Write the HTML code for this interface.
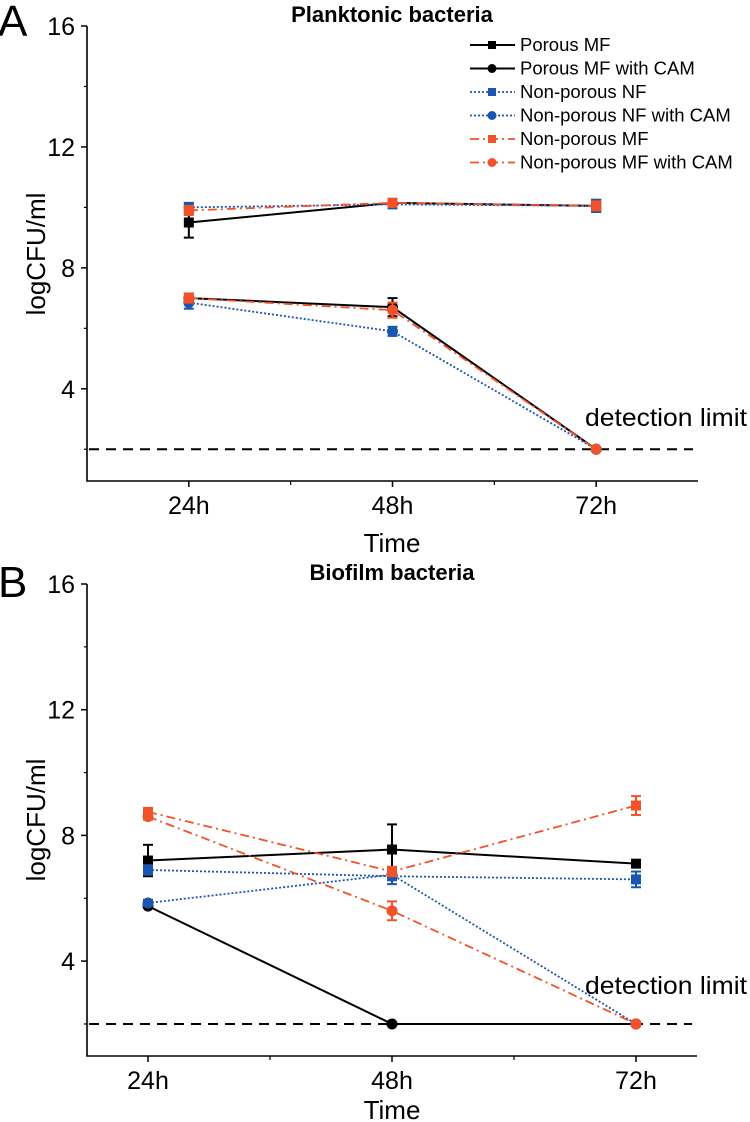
<!DOCTYPE html>
<html><head><meta charset="utf-8">
<style>
html,body{margin:0;padding:0;background:#fff;}
svg{display:block;font-family:"Liberation Sans",Arial,sans-serif;}
</style></head>
<body>
<svg id="fig" width="750" height="1122" viewBox="0 0 750 1122" xmlns="http://www.w3.org/2000/svg"></svg>
<script>
const categories = ["24h","48h","72h"];
const seriesNames = ["Porous MF","Porous MF with CAM","Non-porous NF","Non-porous NF with CAM","Non-porous MF","Non-porous MF with CAM"];
const yTicks = [4,8,12,16];
const detectionLimit = 2;
// Panel A values
const aPorousMF = [9.5,10.15,10.05];
const aPorousMFCam = [7.0,6.7,2];
const aNpNF = [10.0,10.1,10.05];
const aNpNFCam = [6.85,5.9,2];
const aNpMF = [9.9,10.15,10.05];
const aNpMFCam = [7.0,6.6,2];
const aErr = [[0.5,0.1,0.2],[0.15,0.3,0],[0.15,0.1,0.2],[0.2,0.15,0],[0.15,0.1,0.15],[0.15,0.25,0]];
// Panel B values
const bPorousMF = [7.2,7.55,7.1];
const bPorousMFCam = [5.75,2,2];
const bNpNF = [6.9,6.7,6.6];
const bNpNFCam = [5.85,6.75,2];
const bNpMF = [8.75,6.85,8.95];
const bNpMFCam = [8.6,5.6,2];
const bErr = [[0.5,0.8,0.1],[0.05,0,0],[0.15,0.25,0.25],[0.1,0.1,0],[0.1,0.15,0.3],[0.1,0.3,0]];

const NS="http://www.w3.org/2000/svg";
const svg=document.getElementById('fig');
function mk(tag,attrs,parent){const e=document.createElementNS(NS,tag);for(const k in attrs)e.setAttribute(k,attrs[k]);(parent||svg).appendChild(e);return e;}
const styles=[
 {c:"#000",dash:"",m:"sq",w:2},
 {c:"#000",dash:"",m:"ci",w:2},
 {c:"#1a56b0",dash:"2,2",m:"sq",w:1.8},
 {c:"#1a56b0",dash:"2,2",m:"ci",w:1.8},
 {c:"#f2522a",dash:"9,4,2,4",m:"sq",w:1.8},
 {c:"#f2522a",dash:"9,4,2,4",m:"ci",w:1.8}
];
function panel(p){
  const g=mk('g',{});
  
  
  const X=i=>p.x0+(i+1-p.dmin)/(p.dmax-p.dmin)*(p.x1-p.x0);
  const Y=v=>p.yb-(v-p.ymin)/(16-p.ymin)*(p.yb-p.yt);
  const ax=mk('path',{d:`M${p.x0},${Y(16)} L${p.x0},${p.yb} L${p.x1},${p.yb}`,stroke:'#000','stroke-width':1.6,fill:'none'},g);
  
  yTicks.forEach(t=>{
    mk('line',{x1:p.x0-6,x2:p.x0,y1:Y(t),y2:Y(t),stroke:'#000','stroke-width':1.5},g);
    mk('line',{x1:p.x0-3,x2:p.x0,y1:Y(t-2),y2:Y(t-2),stroke:'#000','stroke-width':1.2},g);
    const tl=mk('text',{x:p.x0-12,y:Y(t)+9,'text-anchor':'end','font-size':25},g);tl.textContent=t;
    
  });
  categories.forEach((c,i)=>{
    mk('line',{x1:X(i),x2:X(i),y1:p.yb,y2:p.yb+6,stroke:'#000','stroke-width':1.5},g);
    if(i<2)mk('line',{x1:(X(i)+X(i+1))/2,x2:(X(i)+X(i+1))/2,y1:p.yb,y2:p.yb+4,stroke:'#000','stroke-width':1.2},g);
    const tl=mk('text',{x:X(i),y:p.yb+33,'text-anchor':'middle','font-size':25},g);tl.textContent=c;
    
  });
  const dl=mk('line',{x1:p.x0+2,x2:p.x1-5,y1:Y(detectionLimit),y2:Y(detectionLimit),stroke:'#000','stroke-width':2,'stroke-dasharray':'10,7'},g);
  
  const dt=mk('text',{x:585,y:p.dly,'font-size':25,textLength:162,lengthAdjust:'spacingAndGlyphs'},g);dt.textContent='detection limit';
  
  const tt=mk('text',{x:392,y:p.titleY,'text-anchor':'middle','font-size':22,'font-weight':'bold'},g);tt.textContent=p.title;
  
  const lt=mk('text',{x:-2,y:p.letterY,'font-size':44},g);lt.textContent=p.letter;
  
  const yl=mk('text',{x:0,y:0,'text-anchor':'middle','font-size':26,transform:`translate(45,${p.ylabY}) rotate(-90)`},g);yl.textContent='logCFU/ml';
  
  const xl=mk('text',{x:392,y:p.timeY,'text-anchor':'middle','font-size':26},g);xl.textContent='Time';
  
  p.data.forEach((vals,s)=>{
    const st=styles[s];
    const sg=mk('g',{},g);
    
    
    const pts=vals.map((v,i)=>X(i)+','+Y(v)).join(' ');
    mk('polyline',{points:pts,fill:'none',stroke:st.c,'stroke-width':st.w,'stroke-dasharray':st.dash},sg);
    vals.forEach((v,i)=>{
      const e=p.err[s][i];
      if(e>0){
        mk('line',{x1:X(i),x2:X(i),y1:Y(v+e),y2:Y(v-e),stroke:st.c,'stroke-width':2},sg);
        mk('line',{x1:X(i)-5,x2:X(i)+5,y1:Y(v+e),y2:Y(v+e),stroke:st.c,'stroke-width':2},sg);
        mk('line',{x1:X(i)-5,x2:X(i)+5,y1:Y(v-e),y2:Y(v-e),stroke:st.c,'stroke-width':2},sg);
      }
      let m;
      if(st.m==='sq')m=mk('rect',{x:X(i)-5,y:Y(v)-5,width:10,height:10,fill:st.c},sg);
      else m=mk('circle',{cx:X(i),cy:Y(v),r:5.5,fill:st.c},sg);
      
      
    });
  });
}
panel({name:'panel-a-planktonic',x0:87,x1:698,dmin:0.5,dmax:3.5,yt:26,yb:481,ymin:0.95,title:'Planktonic bacteria',titleY:22,letter:'A',letterY:36,timeY:552,dly:426,ylabY:254,
  data:[aPorousMF,aPorousMFCam,aNpNF,aNpNFCam,aNpMF,aNpMFCam],err:aErr});
panel({name:'panel-b-biofilm',x0:87,x1:697,dmin:0.75,dmax:3.25,yt:584,yb:1056,ymin:0.98,title:'Biofilm bacteria',titleY:580,letter:'B',letterY:597,timeY:1119,dly:994,ylabY:820,
  data:[bPorousMF,bPorousMFCam,bNpNF,bNpNFCam,bNpMF,bNpMFCam],err:bErr});
const lg=mk('g',{});


seriesNames.forEach((n,s)=>{
  const st=styles[s];const y=45+s*23.5;
  const e=mk('g',{},lg);
  
  
  mk('line',{x1:470,x2:515,y1:y,y2:y,stroke:st.c,'stroke-width':st.w,'stroke-dasharray':st.dash},e);
  if(st.m==='sq')mk('rect',{x:488,y:y-4,width:8,height:8,fill:st.c},e);
  else mk('circle',{cx:492,cy:y,r:4.5,fill:st.c},e);
  const t=mk('text',{x:520,y:y+6,'font-size':18.5},e);t.textContent=n;
});
</script>
</body></html>
